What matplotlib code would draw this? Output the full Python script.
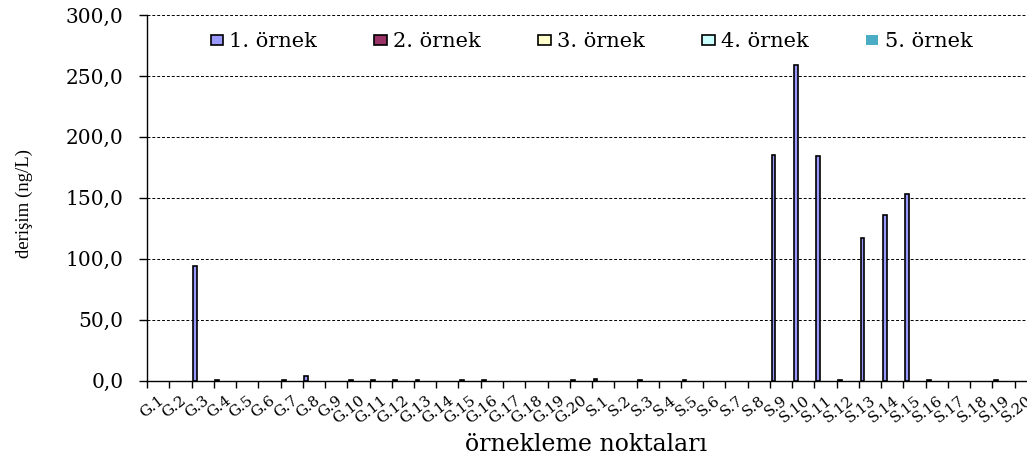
import numpy as np
import matplotlib
matplotlib.use("Agg")
import matplotlib.pyplot as plt
from matplotlib.patches import Patch
from matplotlib.ticker import FuncFormatter

plt.rcParams['font.family'] = ['DejaVu Serif']

# sampling points: 20 groundwater (G) and 20 surface water (S)
noktalar = [f"G.{i}" for i in range(1, 21)] + [f"S.{i}" for i in range(1, 21)]

ornek1 = [0, 0, 94, 0.5, 0, 0, 0.5, 4.0, 0, 0.5,
          0.5, 0.5, 0.5, 0, 0.5, 0.5, 0, 0, 0, 0.5,
          1.0, 0, 0.5, 0, 0.5, 0, 0, 0, 185, 259,
          184.5, 0.5, 117, 136, 153, 0.5, 0, 0, 0.5, 0]
ornek2 = [0] * 40
ornek3 = [0] * 40
ornek4 = [0] * 40
ornek5 = [0] * 40

seriler = [ornek1, ornek2, ornek3, ornek4, ornek5]
etiketler = ["1. örnek", "2. örnek", "3. örnek", "4. örnek", "5. örnek"]
renkler = ["#9999FF", "#993366", "#FFFFCC", "#CCFFFF", "#4BACC6"]
kenarlar = ["black", "black", "black", "black", "none"]

fig = plt.figure(figsize=(10.27, 4.54), dpi=100)
ax = fig.add_axes([147 / 1027, 73.3 / 454, 890 / 1027, 365.7 / 454])

x = np.arange(len(noktalar))
w = 0.17
for j, (vals, c, ec, lab) in enumerate(zip(seriler, renkler, kenarlar, etiketler)):
    v = np.array(vals, dtype=float)
    v[v == 0] = np.nan  # empty samples: no bar at all
    ax.bar(x + 0.075 + j * w, v, width=w, align='edge', color=c,
           edgecolor=ec, linewidth=1.2, label=lab, zorder=2)

ax.set_xlim(0, len(noktalar))
ax.set_ylim(0, 300)
ax.set_yticks(np.arange(0, 301, 50))
ax.yaxis.set_major_formatter(FuncFormatter(lambda v, _: f"{v:.1f}".replace('.', ',')))
ax.tick_params(axis='y', direction='out', length=6, width=1, pad=11, labelsize=14.5)

ax.set_xticks(np.arange(0, len(noktalar) + 1))
ax.set_xticklabels([])
ax.set_xticks(x + 0.5, minor=True)
ax.set_xticklabels(noktalar, minor=True, rotation=38, ha='right', va='top',
                   rotation_mode='anchor', fontsize=11)
ax.tick_params(axis='x', which='major', direction='out', length=5, width=1)
ax.tick_params(axis='x', which='minor', length=0, pad=9)

ax.yaxis.grid(True, linestyle=(0, (3, 2)), color='black', linewidth=0.7, zorder=0)
ax.set_axisbelow(True)
for s in ['top', 'right']:
    ax.spines[s].set_visible(False)
for s in ['left', 'bottom']:
    ax.spines[s].set_color('black')
    ax.spines[s].set_linewidth(1.0)
    ax.spines[s].set_zorder(3)

ax.set_ylabel("derişim (ng/L)", fontsize=13.5, family=['Liberation Serif'])
ax.yaxis.set_label_coords(-0.128, 0.485)
ax.set_xlabel("örnekleme noktaları", fontsize=17)
ax.xaxis.set_label_coords(0.493, -0.143)

handles = [Patch(facecolor=c, edgecolor=ec, linewidth=1.2) for c, ec in zip(renkler, kenarlar)]
ax.legend(handles, etiketler, loc='upper center', bbox_to_anchor=(0.4994, 0.975),
          ncol=5, frameon=False, fontsize=15, handlelength=0.6, handleheight=0.4,
          handletextpad=0.3, columnspacing=2.75, borderaxespad=0)

fig.savefig("out.png", dpi=100)
